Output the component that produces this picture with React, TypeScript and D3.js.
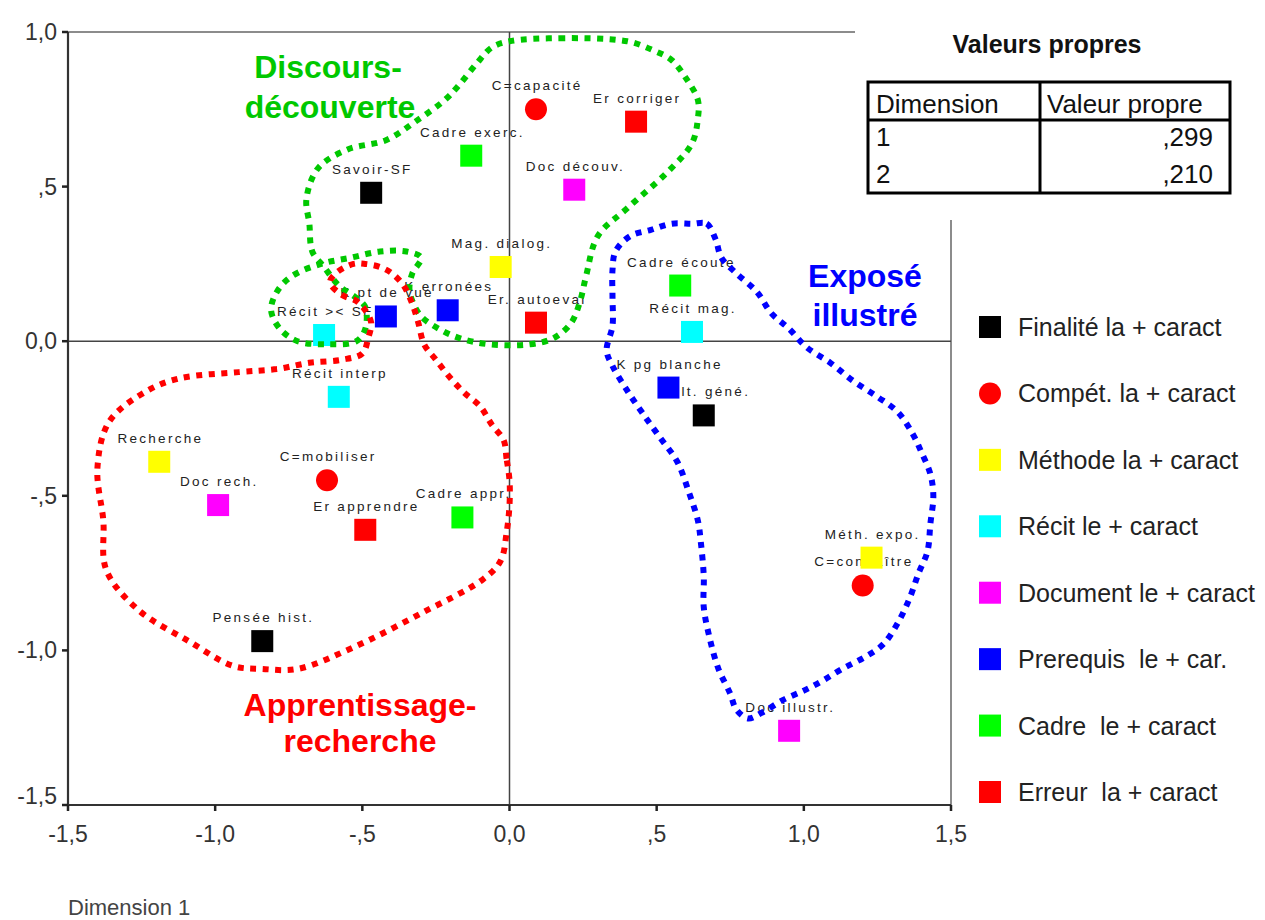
import React from "react";
import * as d3 from "d3";

// ---------- data ----------
const categories = [
  "Finalité la + caract",
  "Compét. la + caract",
  "Méthode la + caract",
  "Récit le + caract",
  "Document le + caract",
  "Prerequis  le + car.",
  "Cadre  le + caract",
  "Erreur  la + caract",
];
const categoryColors = ["#000000", "#ff0000", "#ffff00", "#00ffff", "#ff00ff", "#0000ff", "#00ff00", "#ff0000"];
const categoryShapes = ["square", "circle", "square", "square", "square", "square", "square", "square"];

const finalite = [
  { label: "Savoir-SF", x: -0.47, y: 0.48 },
  { label: "Cult. géné.", x: 0.66, y: -0.24 },
  { label: "Pensée hist.", x: -0.84, y: -0.97 },
];
const competence = [
  { label: "C=capacité", x: 0.09, y: 0.75 },
  { label: "C=mobiliser", x: -0.62, y: -0.45 },
  { label: "C=connaître", x: 1.2, y: -0.79 },
];
const methode = [
  { label: "Mag. dialog.", x: -0.03, y: 0.24 },
  { label: "Recherche", x: -1.19, y: -0.39 },
  { label: "Méth. expo.", x: 1.23, y: -0.7 },
];
const recit = [
  { label: "Récit >< SF", x: -0.63, y: 0.02 },
  { label: "Récit interp", x: -0.58, y: -0.18 },
  { label: "Récit mag.", x: 0.62, y: 0.03 },
];
const documentPts = [
  { label: "Doc découv.", x: 0.22, y: 0.49 },
  { label: "Doc rech.", x: -0.99, y: -0.53 },
  { label: "Doc illustr.", x: 0.95, y: -1.26 },
];
const prerequis = [
  { label: "K pt de vue", x: -0.42, y: 0.08 },
  { label: "K erronées", x: -0.21, y: 0.1 },
  { label: "K pg blanche", x: 0.54, y: -0.15 },
];
const cadre = [
  { label: "Cadre exerc.", x: -0.13, y: 0.6 },
  { label: "Cadre écoute", x: 0.58, y: 0.18 },
  { label: "Cadre appr.", x: -0.16, y: -0.57 },
];
const erreur = [
  { label: "Er corriger", x: 0.43, y: 0.71 },
  { label: "Er. autoeval", x: 0.09, y: 0.06 },
  { label: "Er apprendre", x: -0.49, y: -0.61 },
];
const seriesPoints = [finalite, competence, methode, recit, documentPts, prerequis, cadre, erreur];

const xTicks = [-1.5, -1, -0.5, 0, 0.5, 1, 1.5];
const xTickLabels = ["-1,5", "-1,0", "-,5", "0,0", ",5", "1,0", "1,5"];
const yTicks = [1, 0.5, 0, -0.5, -1, -1.5];
const yTickLabels = ["1,0", ",5", "0,0", "-,5", "-1,0", "-1,5"];

const eigenDims = ["1", "2"];
const eigenValues = [",299", ",210"];

// hand-drawn cluster outlines (data coordinates)
const outlineDiscours: [number, number][] = [
  [0.0, 0.97], [0.17, 0.98], [0.4, 0.97], [0.49, 0.94], [0.55, 0.91], [0.6, 0.85], [0.64, 0.78], [0.64, 0.72],
  [0.62, 0.64], [0.54, 0.55], [0.4, 0.43], [0.3, 0.34], [0.26, 0.21], [0.24, 0.13], [0.21, 0.06], [0.15, 0.01],
  [0.07, -0.01], [-0.07, -0.01], [-0.17, 0.01], [-0.24, 0.04], [-0.3, 0.08], [-0.33, 0.13], [-0.34, 0.17],
  [-0.33, 0.22], [-0.3, 0.27], [-0.35, 0.29], [-0.44, 0.29], [-0.54, 0.27], [-0.64, 0.25], [-0.74, 0.21],
  [-0.79, 0.16], [-0.81, 0.1], [-0.78, 0.04], [-0.72, 0.0], [-0.62, -0.01], [-0.52, 0.0], [-0.49, 0.04],
  [-0.49, 0.11], [-0.52, 0.14], [-0.58, 0.18], [-0.63, 0.24], [-0.67, 0.29], [-0.68, 0.38], [-0.69, 0.46],
  [-0.65, 0.56], [-0.55, 0.62], [-0.42, 0.65], [-0.32, 0.71], [-0.22, 0.78], [-0.17, 0.83], [-0.11, 0.9],
  [-0.06, 0.95],
];
const outlineApprentissage: [number, number][] = [
  [0.0, -0.45], [-0.01, -0.38], [-0.02, -0.32], [-0.06, -0.27], [-0.1, -0.21], [-0.15, -0.17], [-0.2, -0.12],
  [-0.25, -0.06], [-0.29, -0.01], [-0.31, 0.06], [-0.33, 0.12], [-0.36, 0.18], [-0.4, 0.22], [-0.44, 0.24],
  [-0.49, 0.25], [-0.53, 0.25], [-0.59, 0.22], [-0.61, 0.19], [-0.57, 0.15], [-0.52, 0.13], [-0.49, 0.1],
  [-0.47, 0.06], [-0.48, 0.01], [-0.5, -0.04], [-0.57, -0.06], [-0.68, -0.07], [-0.79, -0.09], [-0.92, -0.1],
  [-1.12, -0.12], [-1.23, -0.16], [-1.36, -0.26], [-1.4, -0.41], [-1.38, -0.58], [-1.37, -0.74], [-1.26, -0.87],
  [-1.09, -0.97], [-0.94, -1.05], [-0.84, -1.06], [-0.72, -1.06], [-0.53, -0.99], [-0.3, -0.88], [-0.09, -0.77],
  [-0.03, -0.71], [-0.01, -0.62], [0.0, -0.53],
];
const outlineExpose: [number, number][] = [
  [0.62, 0.38], [0.67, 0.38], [0.7, 0.33], [0.72, 0.27], [0.77, 0.22], [0.84, 0.16], [0.89, 0.09], [0.95, 0.04],
  [1.01, -0.02], [1.09, -0.07], [1.17, -0.13], [1.25, -0.18], [1.32, -0.23], [1.37, -0.3], [1.4, -0.36],
  [1.43, -0.43], [1.44, -0.5], [1.43, -0.59], [1.42, -0.68], [1.39, -0.75], [1.36, -0.83], [1.32, -0.91],
  [1.27, -0.98], [1.21, -1.02], [1.13, -1.06], [1.06, -1.1], [1.0, -1.13], [0.93, -1.16], [0.86, -1.2],
  [0.81, -1.22], [0.77, -1.19], [0.75, -1.14], [0.71, -1.06], [0.68, -0.96], [0.66, -0.86], [0.66, -0.76],
  [0.65, -0.65], [0.64, -0.58], [0.61, -0.49], [0.57, -0.39], [0.51, -0.31], [0.45, -0.23], [0.4, -0.16],
  [0.35, -0.08], [0.33, -0.03], [0.35, 0.05], [0.35, 0.14], [0.35, 0.23], [0.36, 0.29], [0.41, 0.34],
  [0.48, 0.36], [0.55, 0.38],
];

// ---------- chart ----------
const W = 1265;
const H = 920;
const FONT = "'Liberation Sans', Arial, Helvetica, sans-serif";

function Marker({ shape, cx, cy, color, size = 22 }: { shape: string; cx: number; cy: number; color: string; size?: number }) {
  if (shape === "circle") {
    const sym = d3.symbol().type(d3.symbolCircle).size(Math.PI * (size / 2) * (size / 2))();
    return <path d={sym || ""} transform={`translate(${cx},${cy})`} fill={color} />;
  }
  return <rect x={cx - size / 2} y={cy - size / 2} width={size} height={size} fill={color} />;
}

export default function App() {
  const xs = d3.scaleLinear().domain([-1.5, 1.5]).range([68, 951]);
  const ys = d3.scaleLinear().domain([-1.5, 1]).range([805, 32]);
  const outline = d3
    .line<[number, number]>()
    .x((d) => xs(d[0]))
    .y((d) => ys(d[1]))
    .curve(d3.curveCatmullRomClosed.alpha(0.5));

  const labelLS = 2.3;
  const legendY = d3.scalePoint<string>().domain(categories).range([327, 792]);

  return (
    <svg
      width={W}
      height={H}
      viewBox={`0 0 ${W} ${H}`}
      style={{ position: "absolute", left: 0, top: 0, display: "block", background: "#fff", fontFamily: FONT }}
    >
      <rect x={0} y={0} width={W} height={H} fill="#fff" />

      {/* frame */}
      <line x1={xs(-1.5)} x2={xs(1.5)} y1={ys(1)} y2={ys(1)} stroke="#666" strokeWidth={1.5} />
      <line x1={xs(1.5)} x2={xs(1.5)} y1={ys(1)} y2={ys(-1.5)} stroke="#666" strokeWidth={1.5} />
      {/* zero lines */}
      <line x1={xs(-1.5)} x2={xs(1.5)} y1={ys(0)} y2={ys(0)} stroke="#444" strokeWidth={1.5} />
      <line x1={xs(0)} x2={xs(0)} y1={ys(1)} y2={ys(-1.5)} stroke="#444" strokeWidth={1.5} />
      {/* axes */}
      <line x1={xs(-1.5)} x2={xs(-1.5)} y1={ys(1)} y2={ys(-1.5) + 1} stroke="#333" strokeWidth={2.2} />
      <line x1={xs(-1.5) - 1} x2={xs(1.5)} y1={ys(-1.5)} y2={ys(-1.5)} stroke="#333" strokeWidth={2.2} />
      {yTicks.map((t, i) => (
        <g key={"yt" + i}>
          <line x1={xs(-1.5) - 6} x2={xs(-1.5)} y1={ys(t)} y2={ys(t)} stroke="#222" strokeWidth={2.5} />
          <text
            x={57}
            y={ys(t) + (t === -1.5 ? -1 : 8)}
            textAnchor="end"
            fontSize={23}
            fill="#333"
          >
            {yTickLabels[i]}
          </text>
        </g>
      ))}
      {xTicks.map((t, i) => (
        <g key={"xt" + i}>
          <line x1={xs(t)} x2={xs(t)} y1={ys(-1.5)} y2={ys(-1.5) + 6} stroke="#222" strokeWidth={2.5} />
          <text x={xs(t)} y={842} textAnchor="middle" fontSize={23} fill="#333">
            {xTickLabels[i]}
          </text>
        </g>
      ))}
      <text x={68} y={915} fontSize={22} fill="#444">
        Dimension 1
      </text>

      {/* point labels */}
      {seriesPoints.map((pts, si) =>
        pts.map((p, pi) => (
          <text
            key={`l${si}-${pi}`}
            x={xs(p.x) + labelLS / 2}
            y={ys(p.y) - 19}
            textAnchor="middle"
            fontSize={13.5}
            letterSpacing={labelLS}
            fill="#222"
          >
            {p.label}
          </text>
        ))
      )}
      {/* markers */}
      {seriesPoints.map((pts, si) =>
        pts.map((p, pi) => (
          <Marker
            key={`m${si}-${pi}`}
            shape={categoryShapes[si]}
            cx={xs(p.x)}
            cy={ys(p.y)}
            color={categoryColors[si]}
          />
        ))
      )}

      {/* cluster outlines */}
      <path d={outline(outlineDiscours) || ""} fill="none" stroke="#00c800" strokeWidth={6} strokeDasharray="6 6.5" />
      <path d={outline(outlineApprentissage) || ""} fill="none" stroke="#ff0000" strokeWidth={6} strokeDasharray="6 6.5" />
      <path d={outline(outlineExpose) || ""} fill="none" stroke="#0000ff" strokeWidth={6} strokeDasharray="6 6.5" />

      {/* cluster titles */}
      <g fontWeight="bold" fontSize={32} textAnchor="middle">
        <text x={328} y={78} fill="#00c800">Discours-</text>
        <text x={330} y={118} fill="#00c800">découverte</text>
        <text x={865} y={287} fill="#0000ff">Exposé</text>
        <text x={865} y={326} fill="#0000ff">illustré</text>
        <text x={360} y={716} fill="#ff0000">Apprentissage-</text>
        <text x={360} y={752} fill="#ff0000">recherche</text>
      </g>

      {/* eigenvalue table (covers chart corner) */}
      <rect x={855} y={0} width={W - 855} height={220} fill="#fff" />
      <text x={1047} y={53} textAnchor="middle" fontWeight="bold" fontSize={25} fill="#111">
        Valeurs propres
      </text>
      <g stroke="#000" strokeWidth={3} fill="none">
        <rect x={868} y={82} width={362} height={111} />
        <line x1={868} x2={1230} y1={120} y2={120} />
        <line x1={1040} x2={1040} y1={82} y2={193} />
      </g>
      <g fontSize={26} fill="#111">
        <text x={876} y={113}>Dimension</text>
        <text x={1047} y={113}>Valeur propre</text>
        {eigenDims.map((d, i) => (
          <text key={"d" + i} x={876} y={146 + i * 37}>
            {d}
          </text>
        ))}
        {eigenValues.map((v, i) => (
          <text key={"v" + i} x={1213} y={146 + i * 37} textAnchor="end">
            {v}
          </text>
        ))}
      </g>

      {/* legend */}
      {categories.map((c, i) => (
        <g key={"lg" + i}>
          <Marker shape={categoryShapes[i]} cx={990} cy={legendY(c) || 0} color={categoryColors[i]} />
          <text x={1018} y={(legendY(c) || 0) + 9} fontSize={25} fill="#222" style={{ whiteSpace: "pre" }}>
            {c}
          </text>
        </g>
      ))}
    </svg>
  );
}
